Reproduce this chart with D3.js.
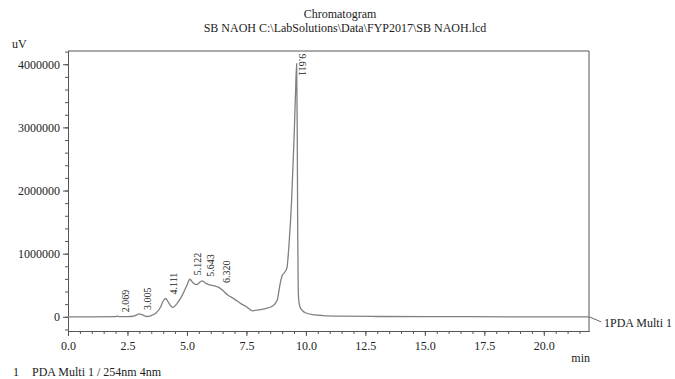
<!DOCTYPE html>
<html>
<head>
<meta charset="utf-8">
<script src="https://cdn.jsdelivr.net/npm/d3@7"></script>
<style>
  body { margin: 0; background: #fff; }
  text { font-family: "Liberation Serif", "Times New Roman", serif; fill: #222; }
</style>
</head>
<body>
<div id="chart"></div>
<script>
// retention time (min) and detector signal (uV)
var times = [0, 1.0, 2.0, 2.069, 2.15, 2.5, 2.8, 3.005, 3.1, 3.3, 3.5, 3.7, 3.9, 4.0, 4.111, 4.2, 4.4, 4.6, 4.8, 5.0,
  5.122, 5.25, 5.4, 5.55, 5.643, 5.8, 6.0, 6.2, 6.32, 6.5, 6.7, 7.0, 7.3, 7.5, 7.75, 8.0, 8.3, 8.6, 8.8, 8.9,
  9.0, 9.1, 9.2, 9.3, 9.4, 9.5, 9.56, 9.611, 9.635, 9.655, 9.675, 9.7, 9.75, 9.85, 10.0, 10.3, 10.7, 11.5, 13, 16, 19, 21.9];
var signal = [0, 0, 2000, 10000, 3000, 2000, 15000, 45000, 35000, 5000, 20000, 60000, 160000, 250000, 290000, 240000, 150000, 220000, 340000, 500000,
  595000, 540000, 510000, 550000, 570000, 530000, 500000, 485000, 470000, 420000, 350000, 280000, 200000, 160000, 95000, 110000, 130000, 170000, 270000, 490000,
  650000, 700000, 770000, 1200000, 1850000, 2800000, 3500000, 4010000, 3000000, 1400000, 500000, 260000, 160000, 100000, 60000, 35000, 20000, 10000, 5000, 2000, 0, 0];
var peakTimes = ["2.069", "3.005", "4.111", "5.122", "5.643", "6.320", "9.611"];
var xTicks = [0, 2.5, 5, 7.5, 10, 12.5, 15, 17.5, 20];
var yTicks = [0, 1000000, 2000000, 3000000, 4000000];

var W = 675, H = 379;
var plotL = 68, plotR = 589, plotT = 51, plotB = 331;

var svg = d3.select("#chart").append("svg")
  .attr("width", W).attr("height", H);

var x = d3.scaleLinear().domain([0, 21.9]).range([plotL, plotR]);
var y = d3.scaleLinear().domain([-225000, 4210000]).range([plotB, plotT]);

// titles
svg.append("text").attr("x", 340).attr("y", 18).attr("text-anchor", "middle")
  .style("font-size", "12px").text("Chromatogram");
svg.append("text").attr("x", 345).attr("y", 32).attr("text-anchor", "middle")
  .style("font-size", "12px").text("SB NAOH C:\\LabSolutions\\Data\\FYP2017\\SB NAOH.lcd");

// frame
svg.append("path")
  .attr("d", "M" + plotL + "," + plotT + "H" + plotR + "V" + plotB)
  .attr("fill", "none").attr("stroke", "#555").attr("stroke-width", 1);

// axes
var xAxis = svg.append("g").attr("transform", "translate(0," + plotB + ")")
  .call(d3.axisBottom(x).tickValues(xTicks).tickFormat(d3.format(".1f")).tickSize(5).tickSizeOuter(0));
var xMinor = svg.append("g").attr("transform", "translate(0," + plotB + ")")
  .call(d3.axisBottom(x).tickValues(d3.range(0, 22, 0.5)).tickFormat("").tickSize(3).tickSizeOuter(0));

var yAxis = svg.append("g").attr("transform", "translate(" + plotL + ",0)")
  .call(d3.axisLeft(y).tickValues(yTicks).tickFormat(d3.format("d")).tickSize(5).tickSizeOuter(0));
var yMinor = svg.append("g").attr("transform", "translate(" + plotL + ",0)")
  .call(d3.axisLeft(y).tickValues(d3.range(-200000, 4300000, 200000)).tickFormat("").tickSize(3).tickSizeOuter(0));

[xAxis, xMinor, yAxis, yMinor].forEach(function(g) {
  g.select(".domain").attr("stroke", "#555");
  g.selectAll("line").attr("stroke", "#555");
  g.selectAll("text").style("font-family", "Liberation Serif").style("font-size", "12px").attr("fill", "#222");
});
xAxis.selectAll("text").attr("dy", "0.95em");
yAxis.selectAll("text").attr("dy", "0.35em");

svg.append("text").attr("x", 12).attr("y", 48).style("font-size", "12px").text("uV");
svg.append("text").attr("x", 590).attr("y", 362).attr("text-anchor", "end").style("font-size", "12px").text("min");

// trace
var pts = times.map(function(t, i) { return [t, signal[i]]; });
var line = d3.line()
  .x(function(d) { return x(d[0]); })
  .y(function(d) { return y(d[1]); })
  .curve(d3.curveMonotoneX);
svg.append("path").datum(pts)
  .attr("d", line)
  .attr("fill", "none").attr("stroke", "#808080").attr("stroke-width", 1.3);

// peak labels
var interp = function(t) {
  var i = d3.bisector(function(d) { return d[0]; }).left(pts, t);
  if (i <= 0) return pts[0][1];
  var a = pts[i - 1], b = pts[i];
  return a[1] + (b[1] - a[1]) * (t - a[0]) / (b[0] - a[0]);
};
peakTimes.forEach(function(p) {
  var t = +p, px = x(t), py = y(interp(t));
  if (t > 9) {
    svg.append("text")
      .attr("transform", "translate(" + (px + 6) + "," + (py - 10) + ") rotate(90)")
      .attr("dy", "0.35em").style("font-size", "10px").text(p);
  } else {
    svg.append("text")
      .attr("transform", "translate(" + (px + 8) + "," + (py - 4) + ") rotate(-90)")
      .attr("dy", "0.35em").style("font-size", "10px").text(p);
  }
});

// trace name with leader line
svg.append("line")
  .attr("x1", plotR).attr("y1", y(0)).attr("x2", plotR + 12).attr("y2", y(0) + 5)
  .attr("stroke", "#666").attr("stroke-width", 1);
svg.append("text").attr("x", plotR + 15).attr("y", y(0) + 10).style("font-size", "12px").text("1PDA Multi 1");

// footer
svg.append("text").attr("x", 13).attr("y", 376).style("font-size", "12px").text("1");
svg.append("text").attr("x", 32).attr("y", 376).style("font-size", "12px").text("PDA Multi 1 / 254nm 4nm");
</script>
</body>
</html>
